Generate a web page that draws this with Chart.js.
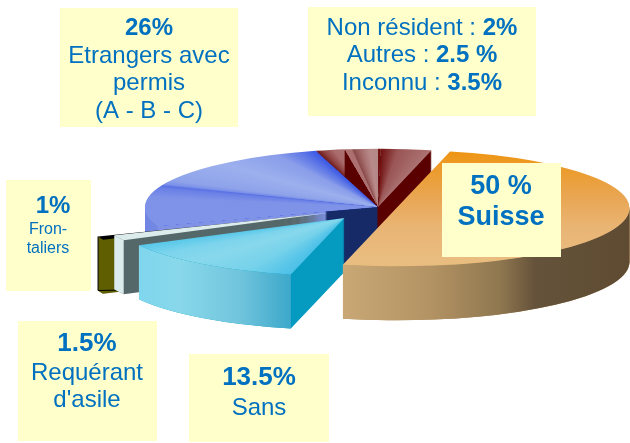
<!DOCTYPE html>
<html><head><meta charset="utf-8">
<style>html,body{margin:0;padding:0;background:#fff}canvas{display:block}</style>
<script src="https://cdn.jsdelivr.net/npm/chart.js@4"></script>
</head><body><canvas id="c" width="630" height="443"></canvas>
<script>
const categories = ['Suisse','Sans','Requérant d\'asile','Frontaliers','Etrangers avec permis','Non résident','Autres','Inconnu'];
const shares = [50,13.5,1.5,1,26,2,2.5,3.5];
const baseColors = ['#e8a85a','#85d8ec','#d8ecec','#5f5f00','#8ca0ea','#a86b6b','#b08585','#a86868'];

// pseudo-3D look
const centre = {x:378,y:207}, squash = 0.25, depth = 54, radius = 233, startDeg = 13.3;
const explode = [19,55,54,64,0,0,0,0];
const extraDrop = [0,0,0,1.5,0,0,0,0];
const shear = [0,0,0,-0.0145,0,0,0,0];
const faceColors = ['#b09060','#059ac0','#55686a','#5f5f00','#152a66','#5a0000','#5a0000','#5a0000'];
const drawOrder = [5,6,7,4,3,2,1,0];
const wallStops = [
  [[342,'#c9a876'],[430,'#b39363'],[500,'#8f7750'],[535,'#65523a'],[630,'#5e4b32']],
  [[138,'#7fd6ee'],[180,'#88d8ea'],[240,'#70c4dc'],[287,'#40aacc']],
  [[100,'#dcecec'],[130,'#dcecec']],
  [[90,'#5f5f00'],[120,'#5f5f00']],
  [[146,'#7186e2'],[200,'#7f92e6']],
  [[0,'#000'],[1,'#000']],[[0,'#000'],[1,'#000']],[[0,'#000'],[1,'#000']]
];
const topConic = {
  1:[[193.3,'#4cc0e8'],[205,'#76d2ea'],[220,'#88d8ec'],[232,'#7cd4ec'],[241.9,'#58c8ea']],
  2:[[241.9,'#dcecec'],[247.3,'#dcecec']],
  3:[[247.3,'#000000'],[250.9,'#000000']],
  4:[[250.9,'#7f93e8'],[280,'#7e92e8'],[289,'#6a80e6'],[291.5,'#5a72e4'],[293,'#7a90e8'],[297,'#8ea2ea'],[318,'#9cb0ee'],[334,'#8a9eea'],[341,'#5a74e6'],[344.5,'#3a58e4']],
  5:[[344.5,'#701818'],[346.5,'#904444'],[349,'#aa6c6c'],[351.7,'#ac7070']],
  6:[[351.7,'#ac7070'],[353.4,'#ac7070'],[353.8,'#8a4a4a'],[356,'#a87070'],[358,'#b88a8a'],[360,'#b48888'],[360.1,'#701010'],[360.7,'#701010']],
  7:[[360.7,'#701010'],[365,'#9a5555'],[373.3,'#ac7272']]
};
const boxes = [
  {r:[60,8,178,119], t:[{s:'26%',x:149,y:35,f:'bold 24px'},{s:'Etrangers avec',x:149,y:63,f:'24px'},{s:'permis',x:149,y:90,f:'24px'},{s:'(A - B - C)',x:149,y:118,f:'24px'}]},
  {r:[308,7,228,109], t:[
    {p:[['Non résident : ','24px'],['2%','bold 24px']],x:422,y:35},
    {p:[['Autres : ','24px'],['2.5 %','bold 24px']],x:422,y:62},
    {p:[['Inconnu : ','24px'],['3.5%','bold 24px']],x:422,y:90}]},
  {r:[442,163,119,94], t:[{s:'50 %',x:501,y:194,f:'bold 27px'},{s:'Suisse',x:501,y:225,f:'bold 27px'}]},
  {r:[6,180,85,111], t:[{s:'1%',x:53,y:213,f:'bold 24px'},{s:'Fron-',x:48,y:234,f:'16px'},{s:'taliers',x:48,y:253,f:'16px'}]},
  {r:[18,321,139,120], t:[{s:'1.5%',x:87,y:351,f:'bold 26px'},{s:'Requérant',x:87,y:380,f:'24px'},{s:"d'asile",x:87,y:407,f:'24px'}]},
  {r:[189,354,140,88], t:[{s:'13.5%',x:259,y:385,f:'bold 26px'},{s:'Sans',x:259,y:415,f:'24px'}]}
];
const FAM = ' "Liberation Sans", Arial, sans-serif';

function withFill(el, ctx, fill){
  const orig = el.options;
  el.options = Object.assign({}, orig, {backgroundColor:fill, borderWidth:0, offset:0, spacing:0});
  el.draw(ctx);
  el.options = orig;
}
const pie3d = {
  id:'pie3d',
  beforeDatasetsDraw(chart){
    const ctx = chart.ctx, arcs = chart.getDatasetMeta(0).data;
    ctx.save();
    for (const i of drawOrder){
      const el = arcs[i], mid = (el.startAngle+el.endAngle)/2;
      const e = centre.x - el.x + explode[i]*Math.cos(mid);
      const b = shear[i];
      const f = centre.y - squash*el.y - b*el.x + explode[i]*Math.sin(mid)*squash + extraDrop[i];
      // extruded body (the cut faces stay visible above the outer wall)
      let body = faceColors[i];
      if (i===4){
        body = ctx.createLinearGradient(325-e,0,327-e,0);
        body.addColorStop(0,'#7f92e6'); body.addColorStop(1,faceColors[i]);
      }
      for (let d=depth;d>=1;d--){
        ctx.setTransform(1,b,0,squash,e,f+d);
        withFill(el,ctx,body);
      }
      // outer wall
      const a0=Math.max(el.startAngle,0), a1=Math.min(el.endAngle,Math.PI);
      if (a1>a0){
        ctx.setTransform(1,b,0,squash,e,f);
        const st = wallStops[i], g = ctx.createLinearGradient(st[0][0]-e,0,st[st.length-1][0]-e,0);
        const w0=st[0][0], w1=st[st.length-1][0];
        st.forEach(s=>g.addColorStop((s[0]-w0)/(w1-w0),s[1]));
        ctx.beginPath();
        ctx.arc(el.x,el.y,el.outerRadius,a0,a1);
        ctx.arc(el.x,el.y+depth/squash,el.outerRadius,a1,a0,true);
        ctx.closePath();
        ctx.fillStyle=g; ctx.fill();
        if (i===3){
          // thin dark outline on the outer end of the narrow slice
          const px=el.x+el.outerRadius*Math.cos(a1), py=el.y+el.outerRadius*Math.sin(a1);
          ctx.beginPath();
          ctx.moveTo(px,py);
          ctx.lineTo(px,py+depth/squash);
          ctx.lineTo(px+18,py+depth/squash);
          ctx.setTransform(1,0,0,1,0,0);
          ctx.strokeStyle='#000'; ctx.lineWidth=1; ctx.stroke();
        }
      }
      // top surface
      ctx.setTransform(1,b,0,squash,e,f);
      let fill;
      if (i===0){
        const y=v=>(v-f)/squash;
        fill=ctx.createLinearGradient(0,y(150),0,y(262));
        fill.addColorStop(0,'#ee9410');fill.addColorStop(.4,'#e9a550');fill.addColorStop(.7,'#e9b575');fill.addColorStop(1,'#e9bd80');
      } else {
        const s=topConic[i], d0=s[0][0];
        fill=ctx.createConicGradient(d0*Math.PI/180-Math.PI/2,el.x,el.y);
        s.forEach(p=>fill.addColorStop((p[0]-d0)/360,p[1]));
      }
      withFill(el,ctx,fill);
    }
    ctx.restore();
    return false;
  },
  afterDraw(chart){
    const ctx=chart.ctx;
    ctx.save();
    ctx.textBaseline='alphabetic';
    for (const b of boxes){
      ctx.fillStyle='#ffffcc';
      ctx.fillRect(...b.r);
      ctx.fillStyle='#0070c0';
      for (const t of b.t){
        if (t.p){
          ctx.textAlign='left';
          let w=0; t.p.forEach(p=>{ctx.font=p[1]+FAM;w+=ctx.measureText(p[0]).width;});
          let x=t.x-w/2;
          t.p.forEach(p=>{ctx.font=p[1]+FAM;ctx.fillText(p[0],x,t.y);x+=ctx.measureText(p[0]).width;});
        } else {
          ctx.textAlign='center';
          ctx.font=t.f+FAM;
          ctx.fillText(t.s,t.x,t.y);
        }
      }
    }
    ctx.restore();
  }
};
new Chart(document.getElementById('c'),{
  type:'pie',
  data:{labels:categories,datasets:[{data:shares,backgroundColor:baseColors,borderWidth:0,radius:radius}]},
  options:{responsive:false,animation:false,rotation:startDeg,
    layout:{padding:0},
    plugins:{legend:{display:false},tooltip:{enabled:false}}},
  plugins:[pie3d]
});
</script></body></html>
